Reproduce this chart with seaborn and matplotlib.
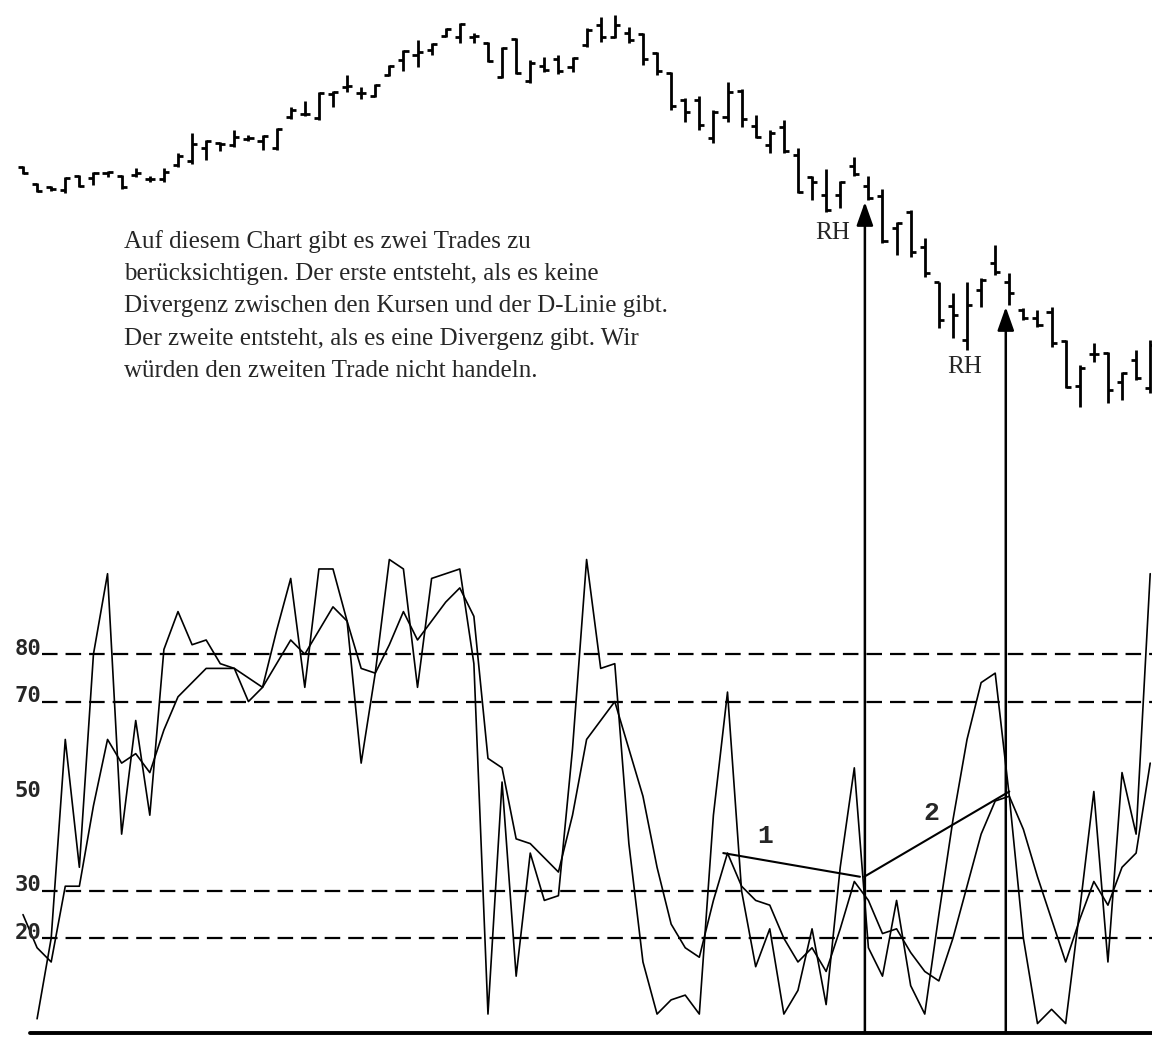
import numpy as np
import pandas as pd
import matplotlib
matplotlib.use("Agg")
import matplotlib.pyplot as plt
from matplotlib.patches import ConnectionPatch
import seaborn as sns

sns.set_style("white")
plt.rcParams['font.family'] = ['Liberation Serif', 'DejaVu Serif']

# ---------------- data ----------------
bar_high = [264, 247, 244, 253, 255, 258, 259, 255, 262, 254, 262, 277, 297, 290, 288, 300, 295, 295, 302, 323,
            329, 338, 339, 355, 343, 346, 365, 380, 390, 387, 402, 407, 397, 388, 383, 392, 370, 373, 375, 373,
            402, 413, 415, 403, 397, 378, 358, 332, 334, 320, 348, 341, 315, 300, 310, 282, 254, 261, 249, 273,
            254, 241, 208, 220, 192, 148, 137, 148, 152, 185, 157, 122, 120, 123, 90, 65, 87, 78, 58, 80, 90]
bar_low = [256, 238, 239, 237, 243, 245, 253, 241, 253, 248, 248, 263, 266, 270, 279, 283, 289, 280, 280, 311,
           314, 310, 323, 338, 331, 333, 354, 359, 363, 375, 393, 387, 387, 368, 352, 356, 347, 358, 356, 358,
           383, 388, 392, 387, 365, 355, 320, 308, 300, 287, 308, 303, 292, 277, 277, 237, 230, 218, 222, 254,
           230, 187, 175, 173, 153, 102, 92, 80, 123, 155, 125, 110, 103, 83, 42, 23, 68, 27, 30, 50, 37]
bar_open = [263, 246, 243, 240, 254, 252, 257, 254, 255, 251, 251, 265, 269, 282, 287, 285, 291, 289, 282, 313,
            316, 312, 336, 343, 337, 334, 355, 370, 375, 380, 394, 393, 393, 387, 353, 391, 349, 364, 371, 363,
            385, 405, 393, 397, 396, 377, 357, 330, 330, 292, 313, 339, 304, 285, 303, 275, 253, 235, 235, 264,
            244, 234, 202, 218, 183, 148, 124, 90, 140, 167, 148, 120, 112, 118, 89, 44, 76, 77, 48, 70, 42]
bar_close = [257, 239, 241, 252, 244, 257, 258, 243, 257, 251, 258, 274, 286, 289, 286, 293, 292, 294, 301, 320,
             316, 337, 338, 344, 337, 345, 364, 379, 378, 386, 401, 406, 394, 369, 382, 357, 367, 360, 359, 372,
             400, 393, 405, 390, 371, 359, 324, 318, 305, 318, 338, 311, 293, 297, 279, 238, 248, 220, 248, 256,
             232, 189, 207, 178, 157, 110, 115, 125, 150, 158, 137, 112, 105, 87, 43, 62, 76, 40, 57, 52, 85]

stoch_k = [np.nan, 3, 20, 62, 35, 80, 97, 42, 66, 46, 81, 89, 82, 83, 78, 77, 70, 73, 85, 96,
           73, 98, 98, 87, 57, 76, 100, 98, 73, 96, 97, 98, 78, 4, 53, 12, 38, 28, 29, 60,
           100, 77, 78, 40, 15, 4, 7, 8, 4, 46, 72, 30, 14, 22, 4, 9, 22, 6, 35, 56,
           18, 12, 28, 10, 4, 25, 45, 62, 74, 76, 50, 20, 2, 5, 2, 26, 51, 15, 55, 42, 97]
stoch_d = [25, 18, 15, 31, 31, 48, 62, 57, 59, 55, 64, 71, 74, 77, 77, 77, 75, 73, 78, 83,
           80, 85, 90, 87, 77, 76, 82, 89, 83, 87, 91, 94, 88, 58, 56, 41, 40, 37, 34, 46,
           62, 66, 70, 60, 50, 35, 23, 18, 16, 28, 38, 31, 28, 27, 20, 15, 18, 13, 22, 32,
           28, 21, 22, 17, 13, 11, 20, 31, 42, 49, 50, 43, 33, 24, 15, 24, 32, 27, 35, 38, 57]

level_values = [80, 70, 30, 20]
label_values = [80, 70, 50, 30, 20]
label_texts = ["80", "70", "50", "30", "20"]

div1_x = [49.7, 59.4]
div1_y = [38, 33]
div2_x = [59.7, 70.0]
div2_y = [33, 51]

signal_bars = [60, 70]
rh_texts = ["RH", "RH"]

paragraph = [
    "Auf diesem Chart gibt es zwei Trades zu",
    "berücksichtigen. Der erste entsteht, als es keine",
    "Divergenz zwischen den Kursen und der D-Linie gibt.",
    "Der zweite entsteht, als es eine Divergenz gibt. Wir",
    "würden den zweiten Trade nicht handeln.",
]

# ---------------- layout ----------------
W, H = 1152, 1039
fig = plt.figure(figsize=(W / 100, H / 100), dpi=100)
fig.patch.set_facecolor("white")

n = len(bar_high)
idx = np.arange(n)
x0 = -23 / 14.09
x1 = (W - 23) / 14.09

ax_p = fig.add_axes([0, (H - 430) / H, 1, 430 / H])
ax_p.set_xlim(x0, x1)
ax_p.set_ylim(0, 430)
ax_p.axis("off")

ax_o = fig.add_axes([0, 0, 1, 499 / H])

# price bars (OHLC)
tick = 0.36
ax_p.vlines(idx, bar_low, bar_high, color="black", lw=2.0)
ax_p.hlines(bar_open, idx - tick, idx, color="black", lw=2.0)
ax_p.hlines(bar_close, idx, idx + tick, color="black", lw=2.0)

# oscillator
df = pd.DataFrame({"bar": idx, "K": stoch_k, "D": stoch_d})
sns.lineplot(data=df, x="bar", y="K", ax=ax_o, color="black", lw=1.2, estimator=None)
sns.lineplot(data=df, x="bar", y="D", ax=ax_o, color="black", lw=1.2, estimator=None)
ax_o.axis("off")
ax_o.set_xlim(x0, x1)
ax_o.set_ylim(-6 / 4.735, 493 / 4.735)

for v in level_values:
    ax_o.axhline(v, xmin=42 / W, xmax=1, color="black", lw=1.6, linestyle=(0, (7, 3.6)))
ax_o.axhline(0, xmin=30 / W, xmax=1, color="black", lw=2.8)

# divergence lines
ax_o.plot(div1_x, div1_y, color="black", lw=1.5)
ax_o.plot(div2_x, div2_y, color="black", lw=1.5)
ax_o.text(div1_x[0] + 3.0, 41.5, "1", family="Liberation Mono", fontweight="bold",
          fontsize=19, ha="center", va="center")
ax_o.text(div2_x[0] + 4.8, 46.5, "2", family="Liberation Mono", fontweight="bold",
          fontsize=19, ha="center", va="center")

# level labels
for v, t in zip(label_values, label_texts):
    ax_o.text(x0 + 41 / 14.09, v + 1.2, t, family="DejaVu Sans Mono", fontweight="bold",
              fontsize=16, ha="right", va="center")

# arrows from oscillator to price bars
for b in signal_bars:
    con = ConnectionPatch(xyA=(b - 0.25, 0), coordsA=ax_o.transData,
                          xyB=(b - 0.25, bar_low[b] - 2), coordsB=ax_p.transData,
                          arrowstyle="-|>,head_length=0.65,head_width=0.23", mutation_scale=22,
                          color="black", lw=1.8)
    fig.add_artist(con)

# RH labels
fig.text(833 / W, 1 - 233 / H, rh_texts[0], fontsize=18, ha="center", va="center")
fig.text(965 / W, 1 - 367 / H, rh_texts[1], fontsize=18, ha="center", va="center")

# paragraph
for k, line in enumerate(paragraph):
    fig.text(124 / W, 1 - (242 + 32.2 * k) / H, line, fontsize=18, ha="left", va="center")

fig.savefig("out.png", dpi=100, facecolor="white")
